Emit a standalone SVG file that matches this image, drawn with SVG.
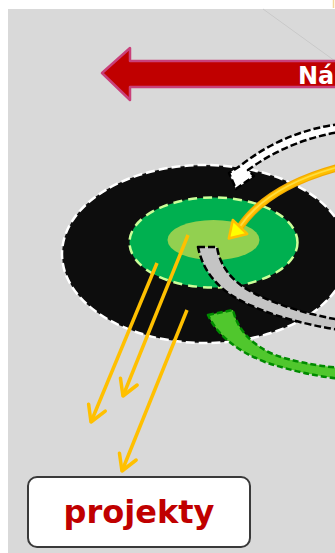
<svg xmlns="http://www.w3.org/2000/svg" width="335" height="553" viewBox="0 0 335 553">
<style>
.dashW{stroke:#ffffff;stroke-width:2.5;stroke-dasharray:9 4;}
.dashK{stroke:#000000;stroke-width:2.5;stroke-dasharray:7 3;stroke-linejoin:round;}
.orange{stroke:#ffc000;stroke-width:3.5;fill:none;marker-end:url(#chev);}
</style>
<defs>
<marker id="chev" markerUnits="userSpaceOnUse" markerWidth="40" markerHeight="40" refX="0" refY="0" viewBox="-20 -20 40 40" orient="auto" overflow="visible">
<path d="M-15.5,-9 L0,0 L-15.5,9" fill="none" stroke="#ffc000" stroke-width="3.5" stroke-linecap="round" stroke-linejoin="round"/>
</marker>
</defs>
<rect x="0" y="0" width="335" height="553" fill="#ffffff"/>
<rect x="8" y="9" width="327" height="544" fill="#d9d9d9"/>
<line x1="263" y1="9" x2="335" y2="61" stroke="#c9c9c9" stroke-width="1"/>
<line x1="333.5" y1="0" x2="333.5" y2="8" stroke="#f3d79a" stroke-width="1.5"/>

<g id="arrow-red">
<path d="M102,73 L130,48 L130,61 L345,61 L345,87 L130,87 L130,100 Z" fill="#c00000" stroke="#c9407a" stroke-width="2.5" stroke-linejoin="round"/>
<text x="298" y="84" font-family="'DejaVu Sans', sans-serif" font-weight="bold" font-size="24" fill="#ffffff">Ná</text>
</g>

<g id="disc">
<ellipse cx="205" cy="254" rx="143" ry="89" fill="#0d0d0d" class="dashW"/>
<ellipse cx="213.5" cy="242.5" rx="84" ry="45" fill="#00b050" stroke="#ccff99" stroke-width="2.5" stroke-dasharray="9 6"/>
<ellipse cx="213.5" cy="240" rx="46" ry="20" fill="#92d050"/>
</g>

<g id="connectors">
<path d="M340,124 Q284,131 240,166 L229,173 L236,189 L254,176 L248,170 Q289,140 340,132 Z" fill="#ffffff" class="dashK"/>
<path d="M198,247 L217,247 Q222,280 262,297 Q295,312 340,320 L340,330 Q288,322 252,306 Q206,287 198,247 Z" fill="#c4c4c4" class="dashK"/>
<path d="M208,315 L233,310 Q240,340 275,355 Q300,364 340,368 L340,379 Q300,374 265,362 Q222,345 208,315 Z" fill="#50c72d" stroke="#008a00" stroke-width="2.5" stroke-dasharray="6 3" stroke-linejoin="round"/>
<path d="M340,167 Q268,186 240,227" fill="none" stroke="#f2a900" stroke-width="7.5"/>
<path d="M340,167 Q268,186 240,227" fill="none" stroke="#ffc000" stroke-width="5"/>
<path d="M340,166.5 Q268,185.5 240,226.5" fill="none" stroke="#ffdc40" stroke-width="1.8"/>
<path d="M232.8,220 L247.2,234 L228.8,238.5 Z" fill="#ffff00" stroke="#ffc000" stroke-width="2.5" stroke-linejoin="round"/>
<line class="orange" x1="157" y1="263" x2="91" y2="422"/>
<line class="orange" x1="188" y1="235" x2="123" y2="396"/>
<line class="orange" x1="187" y1="310" x2="122" y2="471"/>
</g>

<g id="node-projekty">
<rect x="28" y="477" width="222" height="70" rx="9" fill="#ffffff" stroke="#3a3a3a" stroke-width="2"/>
<text x="139" y="523" text-anchor="middle" font-family="'DejaVu Sans', sans-serif" font-weight="bold" font-size="32" fill="#c00000">projekty</text>
</g>
</svg>
